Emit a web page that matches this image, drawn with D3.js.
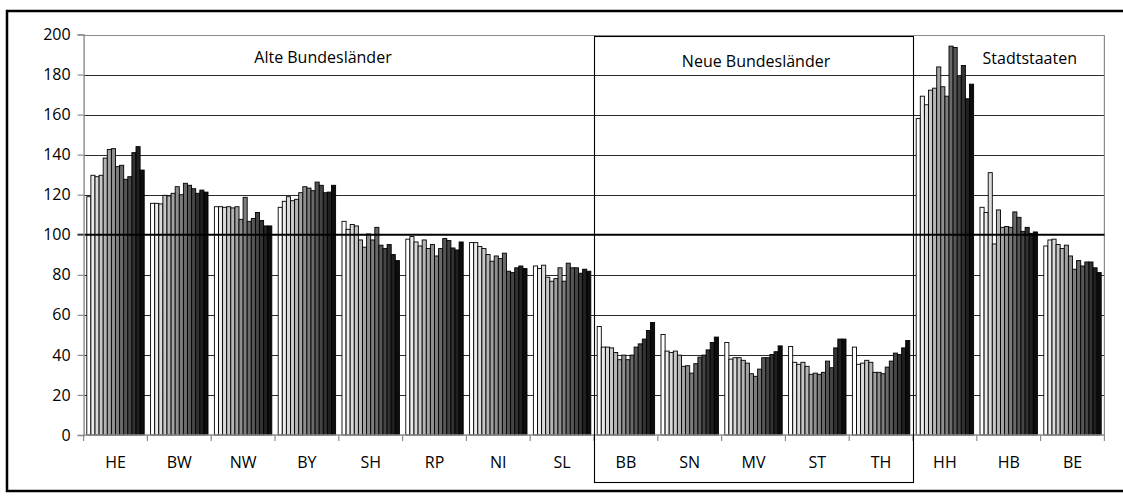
<!DOCTYPE html>
<html>
<head>
<meta charset="utf-8">
<script src="https://cdn.jsdelivr.net/npm/d3@7"></script>
<style>
  html, body { margin: 0; padding: 0; background: #fff; }
  svg { display: block; font-family: "Open Sans", "Noto Sans", sans-serif; }
</style>
</head>
<body>
<svg id="chart" width="1123" height="502"></svg>
<script>
// ---- data ----
const states = ["HE","BW","NW","BY","SH","RP","NI","SL","BB","SN","MV","ST","TH","HH","HB","BE"];
const years = ["1995","1996","1997","1998","1999","2000","2001","2002","2003","2004","2005","2006","2007","2008"];
const yTicks = [0,20,40,60,80,100,120,140,160,180,200];

const HE = [119.0,129.7,129.0,129.7,138.3,142.6,143.0,134.0,134.7,127.7,129.0,141.0,144.0,132.3];
const BW = [115.7,115.7,115.4,119.7,119.4,120.7,124.0,120.0,125.7,124.7,123.0,120.7,122.3,121.3];
const NW = [114.0,114.0,113.7,114.0,113.4,114.0,107.7,118.7,106.7,108.1,111.1,107.1,104.4,104.4];
const BY = [113.7,116.7,119.0,117.0,117.7,121.0,124.0,123.3,122.0,126.3,124.7,121.0,121.3,124.7];
const SH = [106.7,102.7,105.1,104.4,97.4,93.8,100.4,97.4,103.7,94.8,93.1,95.1,90.1,87.1];
const RP = [97.8,99.1,96.4,94.4,97.4,93.1,95.1,89.4,93.1,98.1,97.1,93.4,92.4,96.4];
const NI = [96.1,96.1,94.1,93.1,90.1,86.8,89.4,88.1,90.8,81.8,81.1,83.5,84.4,83.1];
const SL = [84.4,83.1,84.8,78.8,76.8,78.1,83.5,76.8,85.8,83.5,83.5,80.8,82.8,81.8];
const BB = [54.2,43.9,43.9,43.5,41.2,37.6,39.9,37.6,39.9,43.9,45.5,47.9,52.2,56.2];
const SN = [50.2,41.9,41.2,41.9,39.9,34.3,34.6,30.9,35.6,38.9,39.9,42.5,46.2,48.9];
const MV = [46.2,37.9,38.6,38.6,37.3,35.9,30.6,29.3,32.9,38.6,38.6,40.2,41.6,44.5];
const ST = [44.2,36.3,35.3,36.3,34.3,30.3,30.9,30.3,31.3,36.9,33.6,43.5,47.9,47.9];
const TH = [43.9,35.3,35.9,37.3,36.3,31.3,31.3,30.6,33.9,36.9,40.9,40.2,43.5,47.2];
const HH = [158.0,169.2,164.9,172.2,173.2,183.8,173.9,169.2,194.2,193.5,178.9,184.5,167.9,175.2];
const HB = [113.7,111.1,131.0,95.4,112.4,103.7,104.1,103.7,111.4,108.7,101.7,103.7,100.7,101.4];
const BE = [94.4,97.4,97.8,95.1,93.1,94.8,89.4,82.8,87.1,84.4,86.4,86.4,83.5,81.1];

const seriesByState = [HE,BW,NW,BY,SH,RP,NI,SL,BB,SN,MV,ST,TH,HH,HB,BE];

const groupNames = ["Alte Bundesländer","Neue Bundesländer","Stadtstaaten"];
const groupFirst = ["HE","BB","HH"];
const groupLast  = ["SL","TH","BE"];
const referenceValue = 100;

// ---- layout ----
const svg = d3.select("#chart");
const plot = {left: 83.6, right: 1104.4, top: 34.5, bottom: 435};
const FS = 16;

const x0 = d3.scaleBand().domain(states).range([plot.left, plot.right])
  .paddingInner(0.1).paddingOuter(0.05);
const x1 = d3.scaleBand().domain(years).range([0, x0.bandwidth()]);
const y = d3.scaleLinear().domain([0,200]).range([plot.bottom, plot.top]);
const color = d3.scaleLinear().domain([0, years.length-1])
  .range(["#ffffff","#0d0d0d"]).interpolate(d3.interpolateRgb);

const step = x0.step();
const catStart = s => x0(s) - x0.paddingInner() * step / 2;

// outer frame
svg.append("rect").attr("x",7).attr("y",11).attr("width",1130).attr("height",480)
  .attr("fill","#fff").attr("stroke","#000").attr("stroke-width",2.5);

// gridlines
svg.append("g").selectAll("line").data(yTicks.filter(t => t>0 && t<200 && t!==referenceValue))
  .join("line")
  .attr("x1",plot.left).attr("x2",plot.right)
  .attr("y1",d => Math.round(y(d))+0.5).attr("y2",d => Math.round(y(d))+0.5)
  .attr("stroke","#2a2a2a").attr("stroke-width",1);

// plot border (top, right)
svg.append("path")
  .attr("d",`M${plot.left},${Math.round(plot.top)+0.5}H${plot.right}V${plot.bottom}`)
  .attr("fill","none").attr("stroke","#8c8c8c").attr("stroke-width",1.2);

// bars
const gBars = svg.append("g");
states.forEach((s,i) => {
  const g = gBars.append("g").attr("transform",`translate(${x0(s)},0)`);
  g.selectAll("rect").data(seriesByState[i]).join("rect")
    .attr("x",(d,j) => x1(years[j]))
    .attr("width",x1.bandwidth())
    .attr("y",d => y(d))
    .attr("height",d => y(0) - y(d))
    .attr("fill",(d,j) => color(j))
    .attr("stroke","#000").attr("stroke-width",0.9);
});

// reference line at 100
svg.append("line")
  .attr("x1",plot.left-6).attr("x2",plot.right)
  .attr("y1",y(referenceValue)).attr("y2",y(referenceValue))
  .attr("stroke","#000").attr("stroke-width",2.2);

// y axis
const yAxis = svg.append("g").attr("transform",`translate(${plot.left},0)`)
  .call(d3.axisLeft(y).tickValues(yTicks).tickSize(6).tickPadding(7));
yAxis.select(".domain").attr("stroke","#8c8c8c").attr("stroke-width",1.4);
yAxis.selectAll(".tick line").attr("stroke","#8c8c8c").attr("stroke-width",1.2);
yAxis.selectAll(".tick text").attr("font-size",FS).attr("fill","#000")
  .attr("font-family","'Open Sans', sans-serif");

// x axis line + ticks at category boundaries
const boundaries = states.map(catStart).concat([plot.right]);
svg.append("line").attr("x1",plot.left).attr("x2",plot.right)
  .attr("y1",plot.bottom).attr("y2",plot.bottom)
  .attr("stroke","#8c8c8c").attr("stroke-width",1.4);
svg.append("g").selectAll("line").data(boundaries).join("line")
  .attr("x1",d=>d).attr("x2",d=>d).attr("y1",plot.bottom).attr("y2",plot.bottom+6)
  .attr("stroke","#8c8c8c").attr("stroke-width",1.2);
svg.append("g").selectAll("text").data(states).join("text")
  .attr("x",d => x0(d) + x0.bandwidth()/2)
  .attr("y",plot.bottom + 33)
  .attr("text-anchor","middle").attr("font-size",FS).attr("fill","#000")
  .text(d => d);

// group annotations
const labelFrac = [0.469, 0.508, 0.61];
const labelBase = [63, 67, 64];
groupNames.forEach((name,k) => {
  const xs = catStart(groupFirst[k]);
  const xe = catStart(groupLast[k]) + step;
  if (k === 1) {
    svg.append("rect").attr("x",Math.round(xs)+0.5).attr("y",36.5)
      .attr("width",Math.round(xe-xs)).attr("height",446)
      .attr("fill","none").attr("stroke","#000").attr("stroke-width",1.1);
  }
  svg.append("text").attr("x",xs + (xe-xs)*labelFrac[k]).attr("y",labelBase[k])
    .attr("text-anchor","middle").attr("font-size",FS).attr("fill","#000")
    .text(name);
});
</script>
</body>
</html>
